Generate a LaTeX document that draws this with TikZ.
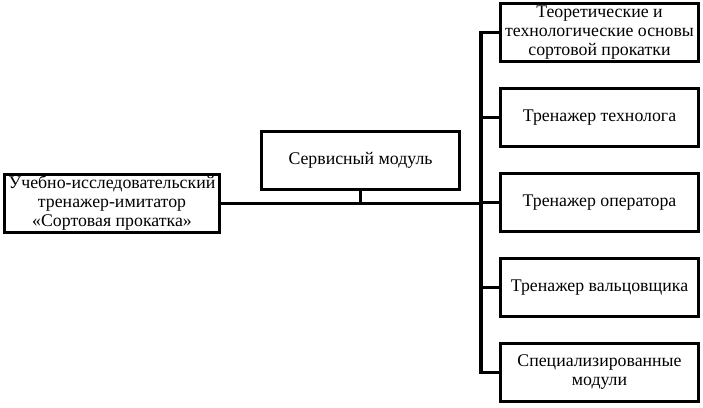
\documentclass[tikz,border=0pt]{standalone}
\usepackage{fontspec}
\setmainfont{Liberation Serif}
\usetikzlibrary{positioning}

\begin{document}
\begin{tikzpicture}[x=1pt,y=1pt,
	box/.style={draw,line width=3pt,align=center,inner sep=1pt,
		minimum height=58pt,font=\fontsize{17.8}{19}\selectfont},
	rbox/.style={box,minimum width=198pt},
	link/.style={line width=3.2pt}]
	\useasboundingbox (0,0) rectangle (703,-407);
	% left and centre
	\node[box,minimum width=215pt] (trainer) at (112,-203.5)
		{Учебно-исследовательский\\тренажер-имитатор\\«Сортовая прокатка»};
	\node[box,minimum width=198pt] (service) at (360.5,-160.5) {Сервисный модуль};
	% right column
	\node[rbox] (theory) at (599.5,-32.5)
		{Теоретические и\\технологические основы\\сортовой прокатки};
	\node[rbox,below=24pt of theory] (techn) {Тренажер технолога};
	\node[rbox,below=24pt of techn] (operator) {Тренажер оператора};
	\node[rbox,below=24pt of operator] (roller) {Тренажер вальцовщика};
	\node[rbox,below=24pt of roller] (special) {Специализированные\\модули};
	% connectors
	\coordinate (bus) at (481,-203.5);
	\draw[link] (trainer.east) -- (bus);
	\draw[link] (service.south) -- (service.south |- bus);
	\draw[link] (theory.west) -| (bus) |- (special.west);
	\draw[link] (techn.west) -- (techn.west -| bus);
	\draw[link] (operator.west) -- (operator.west -| bus);
	\draw[link] (roller.west) -- (roller.west -| bus);
\end{tikzpicture}
\end{document}
